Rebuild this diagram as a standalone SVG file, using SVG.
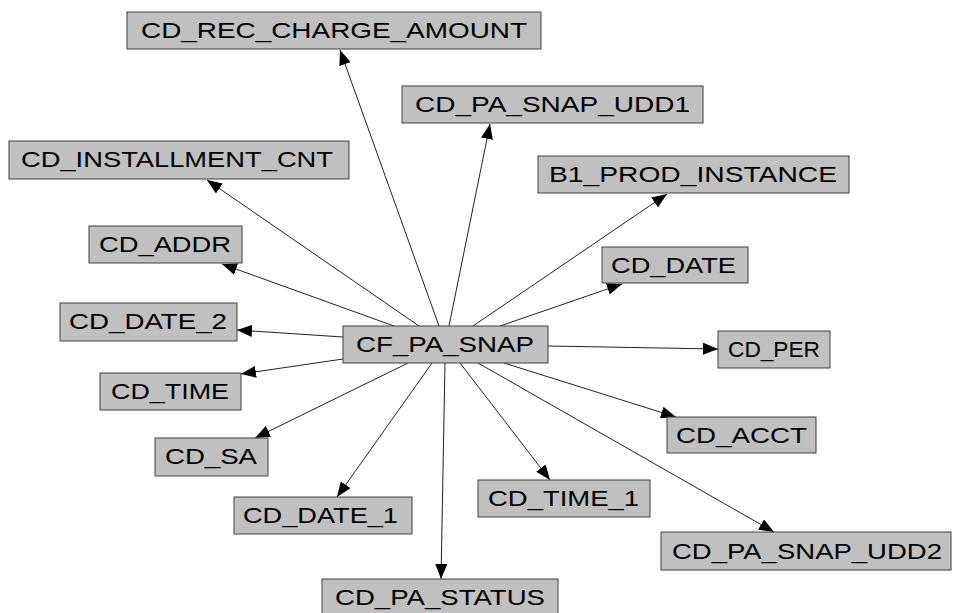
<svg xmlns="http://www.w3.org/2000/svg" width="953" height="613" viewBox="0 0 953 613">
<style>
.box{fill:#c0c0c0;stroke:#404040;stroke-width:1}
.lbl{font-family:"Liberation Sans",Arial,sans-serif;font-size:22.5px;fill:#000}
.edge{stroke:#222;stroke-width:1;fill:none;marker-end:url(#arr)}
</style>
<defs>
<marker id="arr" markerUnits="userSpaceOnUse" markerWidth="16" markerHeight="12" refX="15" refY="6" orient="auto">
<path d="M0,0 L15,6 L0,12 z" fill="#000"/>
</marker>
</defs>
<rect width="953" height="613" fill="#fff"/>
<g id="connectors">
<line class="edge" x1="439" y1="326" x2="340" y2="50"/>
<line class="edge" x1="449" y1="326" x2="490" y2="124"/>
<line class="edge" x1="473" y1="326" x2="667" y2="194"/>
<line class="edge" x1="500" y1="326" x2="622" y2="284"/>
<line class="edge" x1="548" y1="346" x2="718" y2="349"/>
<line class="edge" x1="504" y1="363" x2="676" y2="417"/>
<line class="edge" x1="478" y1="363" x2="774" y2="532"/>
<line class="edge" x1="460" y1="363" x2="550" y2="480"/>
<line class="edge" x1="445" y1="363" x2="441" y2="579"/>
<line class="edge" x1="432" y1="363" x2="337" y2="497"/>
<line class="edge" x1="408" y1="363" x2="255" y2="438"/>
<line class="edge" x1="343" y1="359" x2="241" y2="374"/>
<line class="edge" x1="343" y1="337" x2="237" y2="330"/>
<line class="edge" x1="394" y1="326" x2="222" y2="264"/>
<line class="edge" x1="419" y1="326" x2="207" y2="180"/>
</g>
<g id="CF_PA_SNAP"><rect class="box" x="343" y="326" width="205" height="37"/><text class="lbl" x="356" y="352" textLength="178" lengthAdjust="spacingAndGlyphs">CF_PA_SNAP</text></g>
<g id="CD_REC_CHARGE_AMOUNT"><rect class="box" x="127" y="12" width="414" height="37"/><text class="lbl" x="141" y="38" textLength="386" lengthAdjust="spacingAndGlyphs">CD_REC_CHARGE_AMOUNT</text></g>
<g id="CD_PA_SNAP_UDD1"><rect class="box" x="402" y="86" width="301" height="37"/><text class="lbl" x="415" y="112" textLength="275" lengthAdjust="spacingAndGlyphs">CD_PA_SNAP_UDD1</text></g>
<g id="B1_PROD_INSTANCE"><rect class="box" x="538" y="156" width="311" height="37"/><text class="lbl" x="549" y="182" textLength="288" lengthAdjust="spacingAndGlyphs">B1_PROD_INSTANCE</text></g>
<g id="CD_DATE"><rect class="box" x="602" y="247" width="146" height="36"/><text class="lbl" x="611" y="273" textLength="125" lengthAdjust="spacingAndGlyphs">CD_DATE</text></g>
<g id="CD_PER"><rect class="box" x="718" y="331" width="112" height="37"/><text class="lbl" x="728" y="357" textLength="92" lengthAdjust="spacingAndGlyphs">CD_PER</text></g>
<g id="CD_ACCT"><rect class="box" x="667" y="417" width="149" height="36"/><text class="lbl" x="676" y="443" textLength="131" lengthAdjust="spacingAndGlyphs">CD_ACCT</text></g>
<g id="CD_PA_SNAP_UDD2"><rect class="box" x="661" y="532" width="290" height="38"/><text class="lbl" x="672" y="559" textLength="270" lengthAdjust="spacingAndGlyphs">CD_PA_SNAP_UDD2</text></g>
<g id="CD_TIME_1"><rect class="box" x="478" y="480" width="172" height="37"/><text class="lbl" x="488" y="506" textLength="151" lengthAdjust="spacingAndGlyphs">CD_TIME_1</text></g>
<g id="CD_PA_STATUS"><rect class="box" x="322" y="579" width="236" height="37"/><text class="lbl" x="335" y="605" textLength="210" lengthAdjust="spacingAndGlyphs">CD_PA_STATUS</text></g>
<g id="CD_DATE_1"><rect class="box" x="234" y="497" width="178" height="37"/><text class="lbl" x="243" y="523" textLength="155" lengthAdjust="spacingAndGlyphs">CD_DATE_1</text></g>
<g id="CD_SA"><rect class="box" x="155" y="438" width="113" height="38"/><text class="lbl" x="165" y="464" textLength="92" lengthAdjust="spacingAndGlyphs">CD_SA</text></g>
<g id="CD_TIME"><rect class="box" x="100" y="373" width="141" height="37"/><text class="lbl" x="111" y="399" textLength="118" lengthAdjust="spacingAndGlyphs">CD_TIME</text></g>
<g id="CD_DATE_2"><rect class="box" x="60" y="303" width="177" height="38"/><text class="lbl" x="69" y="329" textLength="158" lengthAdjust="spacingAndGlyphs">CD_DATE_2</text></g>
<g id="CD_ADDR"><rect class="box" x="89" y="226" width="153" height="37"/><text class="lbl" x="99" y="252" textLength="132" lengthAdjust="spacingAndGlyphs">CD_ADDR</text></g>
<g id="CD_INSTALLMENT_CNT"><rect class="box" x="9" y="141" width="340" height="38"/><text class="lbl" x="21" y="167" textLength="312" lengthAdjust="spacingAndGlyphs">CD_INSTALLMENT_CNT</text></g>
</svg>
